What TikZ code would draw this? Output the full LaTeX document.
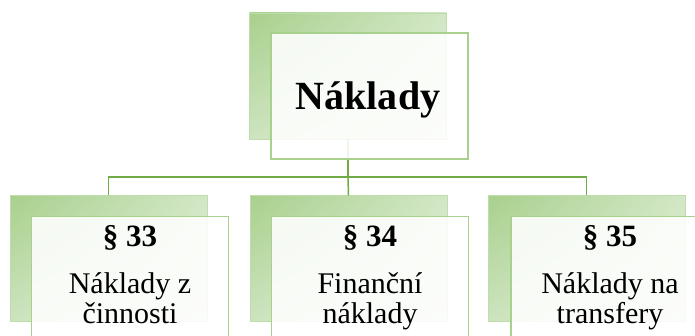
\documentclass[tikz,border=0pt]{standalone}
\usepackage{fontspec}
\setmainfont{Liberation Serif}
\usetikzlibrary{shadings}
\definecolor{linegreen}{HTML}{6FAC46}
\definecolor{frameg}{HTML}{A9D18E}
\definecolor{backedge}{HTML}{BFDDAB}
\definecolor{gUL}{HTML}{A8D08D}
\definecolor{gUR}{HTML}{D2E7C5}
\definecolor{gLL}{HTML}{CDE4BF}
\definecolor{gLR}{HTML}{E3F0DA}
\tikzset{
  backbox/.style={draw=backedge, line width=0.8pt, minimum width=197pt, minimum height=126pt,
    inner sep=0pt, outer sep=0pt, shade,
    upper left=gUL, upper right=gUR, lower left=gLL, lower right=gLR},
  frontbox/.style={draw=frameg, line width=1.4pt, fill=white, fill opacity=0.88,
    minimum width=197pt, minimum height=126pt, inner sep=0pt, outer sep=0pt},
  conn/.style={draw=linegreen, line width=1.5pt},
  bigtxt/.style={font=\fontsize{40}{44}\selectfont\bfseries, anchor=base, inner sep=0pt},
  partxt/.style={font=\fontsize{31}{32}\selectfont\bfseries, anchor=base, inner sep=0pt},
  bodytxt/.style={font=\fontsize{30}{32}\selectfont, anchor=base, inner sep=0pt}
}
\begin{document}
\begin{tikzpicture}[x=1pt,y=-1pt]
\useasboundingbox (0,0) rectangle (695,336);
% back boxes
\node[backbox] (tb) at (348,76) {};
\node[backbox] (b1) at (108.5,258.5) {};
\node[backbox] (b2) at (348.5,258.5) {};
\node[backbox] (b3) at (586.5,258.5) {};
% connectors
\coordinate (hub) at (348,177);
\draw[conn] (tb.south) -- (hub);
\draw[conn] (hub) -| (b1.north);
\draw[conn] (hub) -| (b3.north);
\draw[conn] (hub) -- (b2.north);
% front boxes
\node[frontbox] (tf) at (369.5,96) {};
\node[frontbox] (f1) at (130,279.5) {};
\node[frontbox] (f2) at (370,279.5) {};
\node[frontbox] (f3) at (609.5,279.5) {};
% texts
\node[bigtxt] (t0) at (368,110) {Náklady};
\node[partxt] (p1) at (130,247) {§ 33};
\node[bodytxt] (l1a) at (130,293) {Náklady z};
\node[bodytxt] (l1b) at (130,323) {činnosti};
\node[partxt] (p2) at (370,247) {§ 34};
\node[bodytxt] (l2a) at (370,293) {Finanční};
\node[bodytxt] (l2b) at (370,323) {náklady};
\node[partxt] (p3) at (610,247) {§ 35};
\node[bodytxt] (l3a) at (610,293) {Náklady na};
\node[bodytxt] (l3b) at (610,323) {transfery};
\end{tikzpicture}
\end{document}
